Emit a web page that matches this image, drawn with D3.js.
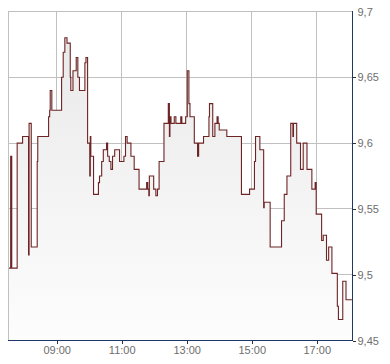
<!DOCTYPE html>
<html>
<head>
<meta charset="utf-8">
<script src="https://cdn.jsdelivr.net/npm/d3@7"></script>
<style>
  html, body { margin: 0; padding: 0; background: #fff; }
  svg { display: block; font-family: Arial, "Liberation Sans", sans-serif; }
</style>
</head>
<body>
<svg id="chart"></svg>
<script>
const width = 390;
const height = 364;

// price ticks (step series)
const times = [
  "07:32", "07:35", "07:37", "07:47", "07:57", "08:08", "08:09", "08:13", "08:24", "08:25",
  "08:45", "08:47", "08:48", "08:51", "09:09", "09:12", "09:15", "09:19", "09:25", "09:26",
  "09:30", "09:36", "09:39", "09:42", "09:52", "09:54", "09:57", "10:01", "10:02", "10:03",
  "10:08", "10:17", "10:19", "10:23", "10:26", "10:32", "10:34", "10:37", "10:40", "10:43",
  "10:47", "10:56", "11:04", "11:07", "11:10", "11:17", "11:23", "11:32", "11:46", "11:48",
  "11:50", "11:51", "11:59", "12:03", "12:06", "12:09", "12:18", "12:26", "12:28", "12:29",
  "12:31", "12:37", "12:40", "12:49", "12:51", "12:58", "13:01", "13:04", "13:06", "13:14",
  "13:20", "13:22", "13:31", "13:41", "13:42", "13:48", "13:52", "13:56", "13:58", "14:00",
  "14:14", "14:41", "14:56", "15:05", "15:07", "15:15", "15:22", "15:23", "15:34", "15:55",
  "16:00", "16:05", "16:12", "16:16", "16:17", "16:23", "16:30", "16:35", "16:42", "16:51",
  "16:57", "16:59", "17:09", "17:12", "17:18", "17:22", "17:28", "17:38", "17:40", "17:48",
  "17:54", "18:05"
];

const prices = [
  9.505, 9.590, 9.505, 9.600, 9.605, 9.515, 9.615, 9.521, 9.586, 9.605,
  9.620, 9.625, 9.640, 9.625, 9.650, 9.669, 9.680, 9.676, 9.650, 9.640,
  9.655, 9.665, 9.650, 9.640, 9.661, 9.665, 9.600, 9.575, 9.605, 9.590,
  9.561, 9.570, 9.575, 9.586, 9.595, 9.600, 9.590, 9.586, 9.580, 9.590,
  9.595, 9.586, 9.590, 9.605, 9.600, 9.590, 9.580, 9.565, 9.570, 9.565,
  9.560, 9.575, 9.565, 9.560, 9.565, 9.586, 9.615, 9.630, 9.605, 9.620,
  9.615, 9.620, 9.615, 9.620, 9.615, 9.620, 9.655, 9.630, 9.620, 9.600,
  9.590, 9.600, 9.605, 9.620, 9.630, 9.605, 9.615, 9.620, 9.615, 9.610,
  9.605, 9.561, 9.565, 9.586, 9.605, 9.595, 9.551, 9.555, 9.521, 9.541,
  9.561, 9.575, 9.615, 9.605, 9.615, 9.600, 9.580, 9.600, 9.580, 9.565,
  9.570, 9.546, 9.526, 9.530, 9.511, 9.521, 9.501, 9.476, 9.466, 9.495,
  9.481, 9.481
];

const timeDomain = ["07:31", "18:06"];
const timeTicks = ["09:00", "11:00", "13:00", "15:00", "17:00"];
const priceDomain = [9.45, 9.7];
const priceTicks = [9.45, 9.5, 9.55, 9.6, 9.65, 9.7];

const parseTime = d3.timeParse("%H:%M");
const data = times.map((t, i) => ({ t: parseTime(t), v: prices[i] }));

const plot = { left: 8, right: 352, top: 11, bottom: 341 };

const svg = d3.select("#chart")
  .attr("width", width)
  .attr("height", height);

const x = d3.scaleTime()
  .domain(timeDomain.map(parseTime))
  .range([plot.left + 0.5, plot.right + 0.5]);

const y = d3.scaleLinear()
  .domain(priceDomain)
  .range([plot.bottom - 0.5, plot.top + 0.5]);

const snap = v => Math.round(v - 0.5) + 0.5;

const defs = svg.append("defs");

const grad = defs.append("linearGradient")
  .attr("id", "areaFill")
  .attr("gradientUnits", "userSpaceOnUse")
  .attr("x1", 0).attr("x2", 0)
  .attr("y1", plot.top).attr("y2", plot.bottom);
grad.append("stop").attr("offset", "0%").attr("stop-color", "#e8e8e8");
grad.append("stop").attr("offset", "100%").attr("stop-color", "#fdfdfd");

defs.append("clipPath").attr("id", "plotClip")
  .append("rect")
  .attr("x", plot.left)
  .attr("y", plot.top)
  .attr("width", plot.right - plot.left)
  .attr("height", plot.bottom - plot.top);

// grid
const grid = svg.append("g")
  .attr("stroke", "#c0c0c0")
  .attr("stroke-width", 1)
  .attr("shape-rendering", "crispEdges");

grid.selectAll(".hgrid")
  .data(priceTicks)
  .join("line")
  .attr("x1", plot.left)
  .attr("x2", plot.right)
  .attr("y1", d => snap(y(d)))
  .attr("y2", d => snap(y(d)));

grid.selectAll(".vgrid")
  .data(timeTicks.map(parseTime))
  .join("line")
  .attr("x1", d => snap(x(d)))
  .attr("x2", d => snap(x(d)))
  .attr("y1", plot.top)
  .attr("y2", plot.bottom);

grid.append("line")
  .attr("x1", plot.left + 0.5)
  .attr("x2", plot.left + 0.5)
  .attr("y1", plot.top)
  .attr("y2", plot.bottom);

// series
const chartArea = svg.append("g").attr("clip-path", "url(#plotClip)");

const area = d3.area()
  .curve(d3.curveStepAfter)
  .x(d => x(d.t))
  .y0(plot.bottom)
  .y1(d => y(d.v));

const line = d3.line()
  .curve(d3.curveStepAfter)
  .x(d => x(d.t))
  .y(d => y(d.v));

chartArea.append("path")
  .datum(data)
  .attr("fill", "url(#areaFill)")
  .attr("d", area);

chartArea.append("path")
  .datum(data)
  .attr("fill", "none")
  .attr("stroke", "#6e2424")
  .attr("stroke-width", 1.1)
  .attr("d", line);

// axes
const axisColor = "#1e3768";

const yAxis = svg.append("g")
  .attr("transform", `translate(${plot.right + 0.5},0)`)
  .call(d3.axisRight(y).tickValues(priceTicks).tickSize(3).tickPadding(2)
    .tickFormat(d => d3.format(".2~f")(d).replace(".", ",")));

const xAxis = svg.append("g")
  .attr("transform", `translate(0,${plot.bottom - 0.5})`)
  .call(d3.axisBottom(x).tickValues(timeTicks.map(parseTime)).tickSize(3).tickPadding(3)
    .tickFormat(d3.timeFormat("%H:%M")));

[yAxis, xAxis].forEach(g => {
  g.select(".domain").attr("stroke", axisColor).attr("shape-rendering", "crispEdges");
  g.selectAll(".tick line").attr("stroke", "#333").attr("shape-rendering", "crispEdges");
  g.selectAll(".tick text")
    .attr("fill", "#6d6d6d")
    .attr("font-size", 11)
    .attr("font-family", "Arial, 'Liberation Sans', sans-serif");
});

// no tick mark at the very top of the price axis
yAxis.selectAll(".tick line").filter(d => d === priceDomain[1]).remove();

yAxis.select(".domain").attr("d", `M0,${plot.top}V${plot.bottom}`);
xAxis.select(".domain").attr("d", `M${plot.left},0H${plot.right + 1}`);
xAxis.selectAll(".tick line").attr("transform", d => `translate(${snap(x(d)) - x(d)},0)`);
</script>
</body>
</html>
